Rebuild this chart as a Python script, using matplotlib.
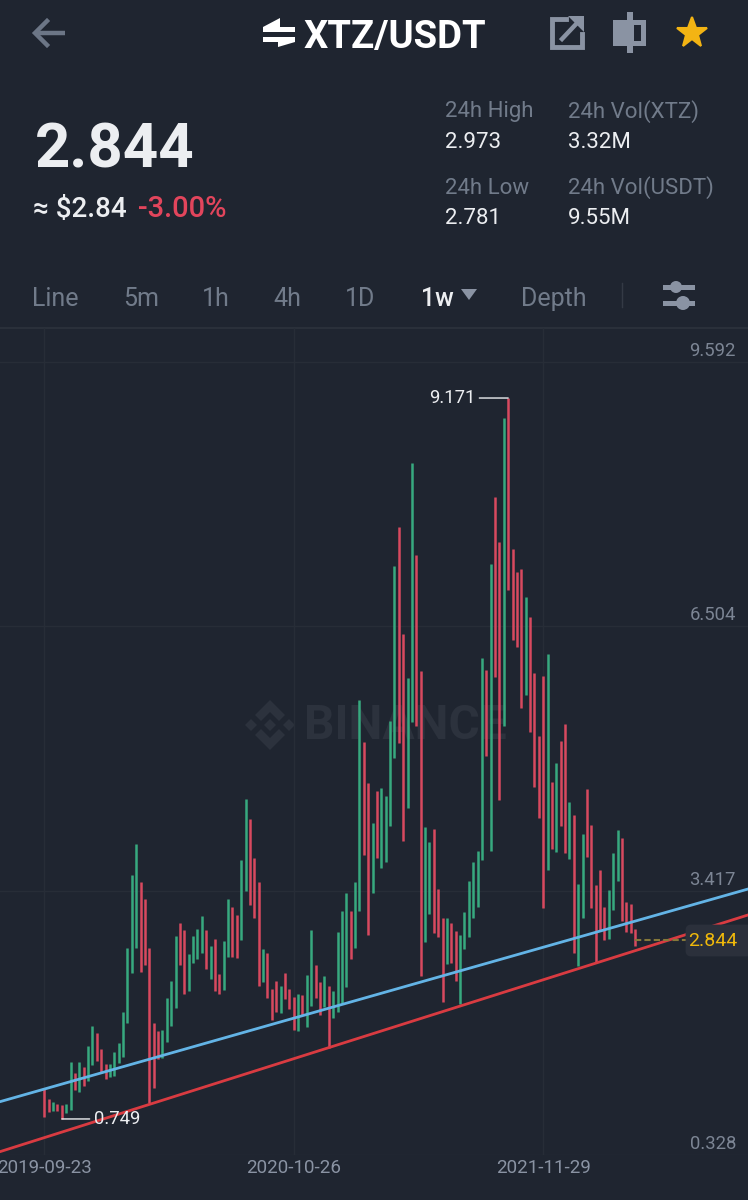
import matplotlib
matplotlib.use("Agg")
import matplotlib.pyplot as plt
from matplotlib.patches import Polygon, Rectangle, Circle, FancyBboxPatch

plt.rcParams["font.family"] = ["Roboto", "DejaVu Sans"]

# -----------------------------
# Data (weekly bars, XTZ/USDT)
# -----------------------------
highs = [
    1.096, 0.979, 0.947, 0.927, 0.912, 0.920, 1.418, 1.282, 1.418, 1.353,
    1.605, 1.831, 1.757, 1.570, 1.388, 1.388, 1.535, 1.633, 2.002, 2.743,
    3.599, 3.958, 3.521, 3.319, 2.743, 1.870, 1.780, 1.792, 2.166, 2.364,
    2.890, 3.035, 2.957, 2.680, 2.886, 2.965, 3.120, 2.953, 2.773, 2.851,
    2.439, 2.832, 3.319, 3.225, 3.132, 3.774, 4.487, 4.250, 3.794, 3.514,
    2.735, 2.688, 2.264, 2.357, 2.306, 2.451, 2.264, 2.177, 2.209, 2.194,
    2.431, 2.957, 2.548, 2.353, 2.423, 2.306, 2.244, 2.937, 3.178, 3.385,
    3.178, 3.517, 5.643, 5.149, 4.677, 4.207, 4.584, 4.615, 4.522, 5.398,
    7.209, 7.668, 6.414, 5.900, 8.416, 7.337, 5.982, 4.163, 3.981, 4.133,
    3.435, 3.093, 3.100, 3.035, 2.945, 2.898, 3.170, 3.529, 3.754, 3.883,
    6.138, 5.994, 7.232, 8.018, 7.493, 8.941, 9.171, 7.407, 7.139, 7.174,
    6.850, 6.617, 5.959, 5.226, 5.927, 6.181, 4.689, 4.907, 5.164, 5.360,
    4.452, 4.300, 3.494, 4.078, 4.604, 4.183, 3.482, 3.657, 3.229, 3.424,
    3.860, 4.125, 4.035, 3.287, 3.260, 2.965,
]
lows = [
    0.775, 0.834, 0.842, 0.846, 0.749, 0.819, 0.854, 1.087, 1.067, 1.138,
    1.196, 1.379, 1.426, 1.301, 1.216, 1.243, 1.251, 1.399, 1.476, 1.867,
    2.458, 2.743, 2.466, 2.544, 0.932, 1.114, 1.446, 1.458, 1.652, 1.835,
    2.049, 2.544, 2.209, 2.247, 2.567, 2.618, 2.691, 2.497, 2.384, 2.244,
    2.205, 2.256, 2.645, 2.645, 2.633, 2.840, 3.412, 3.249, 3.093, 2.302,
    2.353, 2.159, 1.905, 2.002, 1.990, 2.147, 2.030, 1.788, 1.780, 1.964,
    1.820, 2.069, 2.166, 1.964, 2.060, 1.582, 1.928, 1.995, 2.100, 2.294,
    2.618, 2.750, 3.182, 3.833, 2.898, 3.389, 3.798, 3.681, 3.751, 4.175,
    4.966, 5.141, 3.996, 4.382, 5.390, 5.340, 2.419, 2.820, 3.140, 2.918,
    2.871, 2.112, 2.556, 2.567, 2.361, 2.092, 2.731, 2.878, 3.100, 3.229,
    3.774, 4.993, 3.879, 5.912, 4.475, 5.340, 6.928, 6.344, 6.266, 5.550,
    5.702, 5.270, 4.627, 4.265, 3.217, 3.657, 3.903, 3.868, 4.175, 3.856,
    3.786, 2.691, 2.539, 3.097, 3.813, 3.214, 2.575, 2.957, 2.840, 2.851,
    3.190, 3.532, 3.065, 2.937, 2.921, 2.773,
]
directions = (
    "rrgrrggrgr" "ggrrrggggg" "ggrrrrrggg" "grrggggrgr" "rggrrggrrr"
    "grrrgrrrgr" "ggrrgrgggg" "rggrrgrggg" "grrggrrggr" "rrgrrggggg"
    "grgrrgrrrr" "grrrrgrgrr" "grggrrrrrg" "ggrrrr"
)

y_ticks = [0.328, 3.417, 6.504, 9.592]
x_ticks = [0, 57, 114]
x_labels = ["2019-09-23", "2020-10-26", "2021-11-29"]

trend_x = [-10.12, 160.8]
trend_blue = [0.951, 3.435]
trend_red = [0.367, 3.132]

last_price = 2.844
last_week = 135

stats = [
    ("24h High", "2.973", 445, 112),
    ("24h Vol(XTZ)", "3.32M", 568, 112),
    ("24h Low", "2.781", 445, 188),
    ("24h Vol(USDT)", "9.55M", 568, 188),
]
tabs = [("Line", 32), ("5m", 123), ("1h", 202), ("4h", 273), ("1D", 345), ("1w", 421), ("Depth", 521)]

# -----------------------------
# Colours
# -----------------------------
BG = "#1f2530"
GRID = "#272d37"
GREEN = "#37a97f"
RED = "#d8495f"
MUTED = "#717b8a"
ICON = "#8a93a3"
WHITE = "#eceef1"
YELLOW = "#f0b90b"

fig = plt.figure(figsize=(7.48, 12), dpi=100, facecolor=BG)

# -----------------------------
# Screen overlay in pixel coordinates
# -----------------------------
ui = fig.add_axes([0, 0, 1, 1], zorder=0)
ui.set_xlim(0, 748)
ui.set_ylim(1200, 0)
ui.axis("off")

ui.text(304, 37, "XTZ/USDT", color="white", fontsize=27.5, fontweight="bold", va="center")
ui.text(35, 151, "2.844", color=WHITE, fontsize=44.5, fontweight="bold", va="center")
ui.text(33, 209, "≈ $2.84", color=WHITE, fontsize=20, fontweight="medium", va="center")
ui.text(138, 209, "-3.00%", color="#e2455c", fontsize=21, fontweight="medium", va="center")

for label, value, x, y in stats:
    ui.text(x, y, label, color=MUTED, fontsize=16, va="center")
    ui.text(x, y + 30, value, color=WHITE, fontsize=16, va="center")

for name, x in tabs:
    color = WHITE if name == "1w" else MUTED
    ui.text(x, 299, name, color=color, fontsize=18, va="center", fontweight="medium" if name == "1w" else "normal")

ui.add_patch(Polygon([(461, 289), (477, 289), (469, 300)], color=ICON, lw=0))
ui.plot([622, 622], [283, 307], color="#343a45", lw=1)
ui.plot([0, 748], [327.5, 327.5], color="#2a303a", lw=1.5)

# back arrow
ui.plot([35, 65], [33, 33], color="#6c7686", lw=3.2, solid_capstyle="butt")
ui.plot([47, 35, 47], [21, 33, 45], color="#6c7686", lw=3.2, solid_joinstyle="miter")

# swap icon
ui.add_patch(Polygon([(263, 27), (295, 27), (295, 32), (263, 32)], color="white", lw=0))
ui.add_patch(Polygon([(263, 27), (280, 18), (280, 27)], color="white", lw=0))
ui.add_patch(Polygon([(263, 37), (295, 37), (295, 42), (263, 42)], color="white", lw=0))
ui.add_patch(Polygon([(295, 42), (278, 47), (278, 42)], color="white", lw=0))

# share icon
ui.plot([566, 552.5, 552.5, 582, 582], [18.5, 18.5, 46.5, 46.5, 34], color=ICON, lw=3.5, solid_joinstyle="miter")
ui.plot([562, 578], [39, 22], color=ICON, lw=3.2)
ui.add_patch(Polygon([(568, 16), (584, 16), (584, 32)], color=ICON, lw=0))

# candle icon
ui.add_patch(Rectangle((613, 20), 33, 26, color=ICON, lw=0))
ui.add_patch(Rectangle((627, 12), 6, 41, color=ICON, lw=0))
ui.add_patch(Rectangle((634, 25), 7, 16, color=BG, lw=0))

# favourite star
ui.plot([692], [33], marker="*", ms=23, color="#f3b413", mec="#f3b413", mew=1.5)

# settings icon
ui.add_patch(Rectangle((663, 285), 32, 5, color=ICON, lw=0))
ui.add_patch(Rectangle((663, 301), 32, 5, color=ICON, lw=0))
ui.add_patch(Circle((676, 287), 6, color=ICON, lw=0))
ui.add_patch(Circle((683, 303), 7, color=ICON, lw=0))

# -----------------------------
# Watermark
# -----------------------------
MARK = "#2c323d"
cx, cy = 270, 725
ui.add_patch(Polygon([(cx, cy - 6), (cx + 6, cy), (cx, cy + 6), (cx - 6, cy)], color=MARK, lw=0))
ui.add_patch(Polygon([(cx - 25, cy), (cx - 19, cy - 6), (cx - 13, cy), (cx - 19, cy + 6)], color=MARK, lw=0))
ui.add_patch(Polygon([(cx + 25, cy), (cx + 19, cy - 6), (cx + 13, cy), (cx + 19, cy + 6)], color=MARK, lw=0))
ui.add_patch(Polygon([(cx, cy - 25), (cx + 15, cy - 10), (cx + 9, cy - 4), (cx, cy - 13), (cx - 9, cy - 4), (cx - 15, cy - 10)], color=MARK, lw=0))
ui.add_patch(Polygon([(cx, cy + 25), (cx + 15, cy + 10), (cx + 9, cy + 4), (cx, cy + 13), (cx - 9, cy + 4), (cx - 15, cy + 10)], color=MARK, lw=0))
ui.text(304, 726, "BINANCE", color=MARK, fontsize=34.5, fontweight="bold", va="center")

# -----------------------------
# Chart
# -----------------------------
ax = fig.add_axes([0, 45 / 1200, 1, 827 / 1200], zorder=1)
ax.patch.set_alpha(0)
ax.set_xlim(-10.12, 160.8)
ax.set_ylim(0.328, 9.989)

for side in ax.spines.values():
    side.set_visible(False)

ax.set_yticks(y_ticks, labels=[])
ax.set_xticks(x_ticks, labels=x_labels)
ax.tick_params(axis="y", length=0)
ax.tick_params(axis="x", length=0, pad=3, labelsize=13.5, labelcolor="#8a93a3")
ax.grid(True, color=GRID, lw=1)
ax.set_axisbelow(True)

for label in ax.get_xticklabels():
    label.set_clip_on(False)

weeks = list(range(len(highs)))
colors = [GREEN if d == "g" else RED for d in directions]
ax.vlines(weeks, lows, highs, colors=colors, lw=1.8, capstyle="butt")

ax.plot(trend_x, trend_blue, color="#63b4e6", lw=2)
ax.plot(trend_x, trend_red, color="#d93b41", lw=2)

for tick in y_ticks:
    ax.annotate(f"{tick:.3f}", xy=(1, tick), xycoords=ax.get_yaxis_transform(),
                xytext=(-12, 11), textcoords="offset pixels",
                ha="right", va="center", color="#7c8594", fontsize=13.3)

# high / low callouts
high_idx = highs.index(max(highs))
low_idx = lows.index(min(lows))
ax.annotate(f"{max(highs):.3f}", xy=(high_idx, max(highs)), xytext=(-33, 0), textcoords="offset pixels",
            ha="right", va="center", color=WHITE, fontsize=13.3,
            arrowprops=dict(arrowstyle="-", color=WHITE, lw=1, shrinkA=1, shrinkB=0))
ax.annotate(f"{min(lows):.3f}", xy=(low_idx, min(lows)), xytext=(32, 0), textcoords="offset pixels",
            ha="left", va="center", color=WHITE, fontsize=13.3,
            arrowprops=dict(arrowstyle="-", color=WHITE, lw=1, shrinkA=1, shrinkB=0))

# last price marker
ax.plot([last_week, trend_x[1]], [last_price, last_price], color="#85783a", lw=1.5, ls=(0, (3, 1.5)))
tag = fig.add_axes([0, 0, 1, 1], zorder=2)
tag.set_xlim(0, 748)
tag.set_ylim(1200, 0)
tag.axis("off")
tag.add_patch(FancyBboxPatch((687, 926), 64, 29, boxstyle="round,pad=0,rounding_size=4", fc="#2b303b", ec="#2b303b", lw=2))
tag.text(737, 941, f"{last_price:.3f}", color=YELLOW, fontsize=14, ha="right", va="center")

fig.savefig("out.png", dpi=100, facecolor=BG)
